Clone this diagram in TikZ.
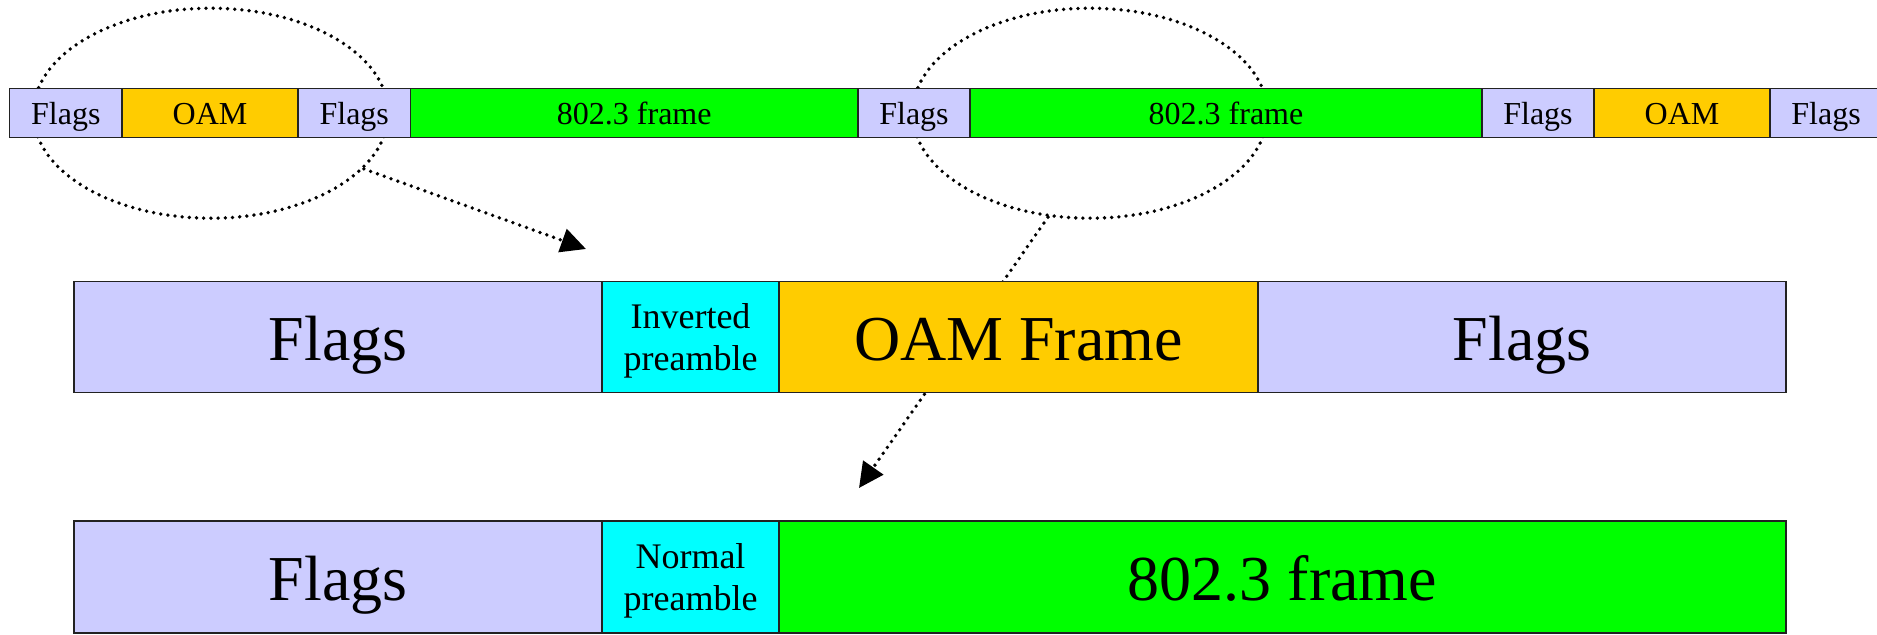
\documentclass[tikz,border=0pt]{standalone}
\usepackage{fontspec}
\setmainfont{Liberation Serif}
\usetikzlibrary{arrows.meta,shapes.geometric}
\definecolor{lav}{HTML}{CCCCFF}
\definecolor{oamc}{HTML}{FFCC00}
\definecolor{grn}{HTML}{00FF00}
\definecolor{cyn}{HTML}{00FFFF}
\definecolor{edge}{HTML}{222222}
\tikzset{
  cell/.style={draw=edge, line width=0.75pt, inner sep=0pt, outer sep=0pt, anchor=north west, align=center},
  toprow/.style={cell, minimum height=24.5pt, font=\fontsize{16}{18}\selectfont, text height=11.8pt, text depth=0pt},
  bigrow/.style={cell, minimum height=55.7pt, font=\fontsize{32}{36}\selectfont, text height=23.5pt, text depth=0pt},
  smalltxt/.style={font=\fontsize{18}{21}\selectfont, align=center, inner sep=0pt, yshift=-2pt},
  loop/.style={ellipse, draw=black, line width=1.9pt, dash pattern=on 0pt off 3.6pt, line cap=round, inner sep=0pt, minimum width=177.5pt, minimum height=105pt},
  zoomarrow/.style={draw=black, line width=1.9pt, dash pattern=on 0pt off 3.6pt, line cap=round, -{Triangle[length=12.5pt,width=12pt]}}
}
\begin{document}
\begin{tikzpicture}[x=0.5pt,y=-0.5pt]
\useasboundingbox (0,0) rectangle (1877,634);
% ellipses (behind the bar)
\node[loop] (e1) at (210.8,113.2) {};
\node[loop] (e2) at (1090,113.2) {};
% arrows
\coordinate (t1) at (586,249);
\coordinate (t2) at (859,488);
\draw[zoomarrow] (e1.-20) -- (t1);
\draw[zoomarrow] (e2.-112) -- (t2);
% top row
\node[toprow, fill=lav, minimum width=56.2pt] (f1) at (9.6,88.6) {Flags};
\node[toprow, fill=oamc, minimum width=88pt] (o1) at (122,88.6) {OAM};
\node[toprow, fill=lav, minimum width=56.25pt] (f2) at (298,88.6) {Flags};
\node[toprow, fill=grn, minimum width=223.75pt] (d1) at (410.5,88.6) {802.3 frame};
\node[toprow, fill=lav, minimum width=56pt] (f3) at (858,88.6) {Flags};
\node[toprow, fill=grn, minimum width=256pt] (d2) at (970,88.6) {802.3 frame};
\node[toprow, fill=lav, minimum width=56pt] (f4) at (1482,88.6) {Flags};
\node[toprow, fill=oamc, minimum width=88pt] (o2) at (1594,88.6) {OAM};
\node[toprow, fill=lav, minimum width=56pt] (f5) at (1770,88.6) {Flags};
% middle row
\node[bigrow, fill=lav, minimum width=264pt] (mf1) at (74,281.3) {Flags};
\node[bigrow, fill=cyn, minimum width=88.5pt] (mi) at (602,281.3) {};
\node[smalltxt] (mit) at (mi.center) {Inverted\\preamble};
\node[bigrow, fill=oamc, minimum width=239.5pt] (mo) at (779,281.3) {OAM Frame};
\node[bigrow, fill=lav, minimum width=264pt] (mf2) at (1258,281.3) {Flags};
% bottom row
\node[bigrow, fill=lav, minimum width=264pt, minimum height=56pt] (bf) at (74,521) {Flags};
\node[bigrow, fill=cyn, minimum width=88.5pt, minimum height=56pt] (bn) at (602,521) {};
\node[smalltxt] (bnt) at (bn.center) {Normal\\preamble};
\node[bigrow, fill=grn, minimum width=503.5pt, minimum height=56pt] (bd) at (779,521) {802.3 frame};
\end{tikzpicture}
\end{document}
